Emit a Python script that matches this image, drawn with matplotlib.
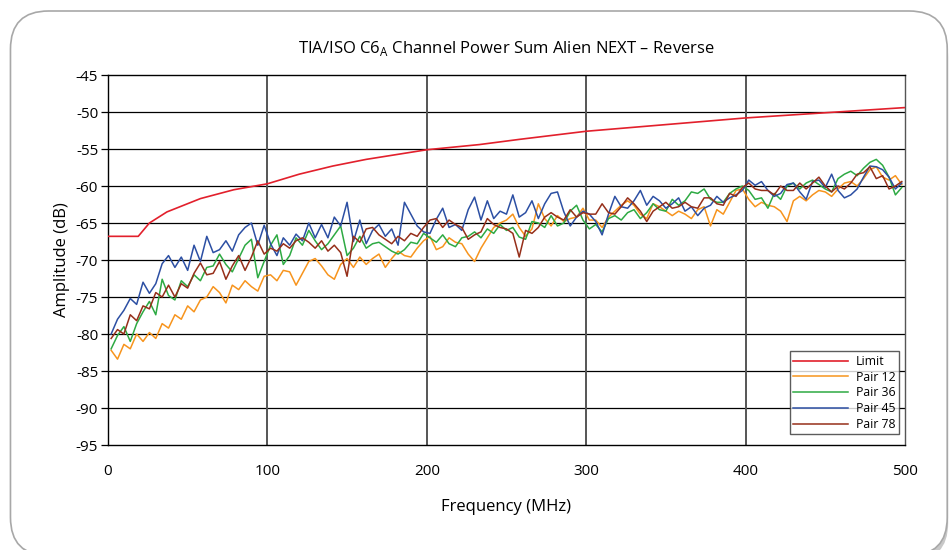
import numpy as np
import matplotlib
matplotlib.use("Agg")
import matplotlib.pyplot as plt
from matplotlib.patches import FancyBboxPatch

plt.rcParams['font.family'] = ['Open Sans', 'DejaVu Sans']
plt.rcParams['axes.unicode_minus'] = False

# Limit line, read at a few frequencies
limit_freq = [0, 19, 26, 37, 58, 79, 100, 120, 141, 162, 200, 233, 258, 300, 350, 400, 450, 500]
limit_db = [-66.8, -66.8, -65.0, -63.5, -61.7, -60.5, -59.7, -58.4, -57.3, -56.4,
            -55.1, -54.4, -53.7, -52.6, -51.7, -50.8, -50.1, -49.4]

# measured pairs, sampled every 4 MHz from 2 to 498 MHz
freq = np.arange(2, 500, 4)

pair12 = [
    -82.2, -83.4, -81.4, -82.0, -80.0, -81.0, -79.8, -80.6, -78.6, -79.2,
    -77.4, -78.0, -76.2, -77.0, -75.4, -75.0, -73.6, -74.4, -75.8, -73.4,
    -74.0, -72.8, -73.6, -74.2, -72.2,
    -72.0, -72.8, -71.4, -71.6, -73.4, -71.8, -70.2, -69.8, -70.8, -72.0,
    -72.6, -70.6, -69.8, -71.0, -69.6, -70.6, -69.8, -69.2, -71.0, -69.8,
    -68.8, -69.4, -69.6, -68.4, -67.4,
    -66.8, -68.6, -68.2, -67.0, -67.6, -67.8, -69.2, -70.2, -68.4, -67.0,
    -65.6, -65.0, -64.6, -63.8, -65.6, -66.8, -65.8, -62.4, -64.4, -65.4,
    -64.0, -64.8, -64.4, -64.2, -63.0,
    -64.6, -64.6, -65.6, -64.2, -63.4, -62.6, -62.0, -62.6, -63.8, -64.4,
    -62.4, -62.8, -63.4, -64.0, -63.4, -63.8, -64.4, -63.2, -62.8, -65.4,
    -63.2, -63.8, -62.2, -60.6, -60.4,
    -61.8, -62.8, -62.2, -62.6, -62.8, -63.4, -64.8, -62.0, -61.4, -62.0,
    -61.2, -60.6, -60.8, -61.4, -60.4, -59.6, -59.4, -60.0, -59.0, -57.8,
    -57.4, -58.8, -59.2, -58.6, -59.8,
]

pair36 = [
    -82.0, -80.2, -79.0, -81.0, -78.6, -77.0, -75.6, -77.4, -72.6, -74.8,
    -75.4, -72.8, -73.6, -72.0, -72.8, -71.0, -70.8, -69.2, -70.6, -71.6,
    -69.8, -68.0, -67.2, -72.4, -70.2,
    -68.0, -66.6, -70.6, -69.4, -67.0, -68.0, -66.0, -67.4, -68.6, -67.8,
    -66.6, -65.4, -69.4, -68.4, -66.8, -68.4, -67.8, -67.6, -68.2, -68.8,
    -69.2, -68.6, -67.6, -67.8, -66.4,
    -67.0, -67.6, -66.6, -67.8, -68.2, -67.0, -66.8, -66.2, -67.0, -65.8,
    -66.4, -65.2, -66.0, -65.6, -66.9, -67.2, -64.8, -65.0, -65.6, -64.0,
    -65.4, -65.0, -63.4, -62.6, -64.6,
    -65.8, -65.2, -66.2, -64.4, -64.0, -64.6, -63.6, -63.2, -64.4, -63.6,
    -62.4, -63.2, -63.4, -61.8, -62.6, -62.0, -60.8, -61.0, -60.4, -61.8,
    -62.2, -62.2, -61.0, -60.4, -60.0,
    -60.6, -61.8, -61.6, -63.0, -61.0, -61.8, -60.0, -59.6, -60.4, -59.6,
    -59.2, -59.8, -60.4, -60.8, -59.0, -58.4, -58.0, -58.6, -57.6, -56.8,
    -56.4, -57.2, -58.8, -61.2, -60.2,
]

pair45 = [
    -80.0, -78.0, -76.8, -75.2, -76.0, -73.0, -74.5, -73.2, -70.5, -69.4,
    -71.0, -69.6, -71.4, -68.0, -70.2, -66.8, -69.0, -68.6, -67.4, -68.8,
    -66.6, -65.6, -65.0, -68.0, -65.3,
    -67.8, -69.4, -67.0, -68.0, -66.5, -67.4, -65.0, -67.0, -65.2, -67.0,
    -64.2, -65.4, -62.2, -67.5, -64.6, -67.8, -66.0, -65.2, -66.8, -65.8,
    -68.0, -62.2, -63.8, -65.4, -66.2,
    -66.4, -64.5, -63.0, -65.6, -65.2, -66.0, -63.2, -61.5, -64.6, -62.0,
    -64.4, -63.4, -63.8, -61.2, -64.2, -63.6, -62.0, -64.4, -62.4, -61.0,
    -60.8, -63.5, -65.4, -64.2, -63.4,
    -63.8, -64.8, -66.6, -63.8, -61.4, -62.8, -63.0, -62.0, -60.6, -62.6,
    -61.4, -62.0, -63.0, -62.4, -61.6, -63.4, -62.8, -64.0, -63.0, -62.6,
    -61.4, -62.2, -61.6, -61.2, -60.6,
    -59.2, -59.9, -59.4, -60.6, -61.4, -61.0, -59.8, -59.6, -60.8, -61.8,
    -59.4, -59.2, -60.2, -58.4, -60.6, -61.6, -61.2, -60.4, -58.8, -57.3,
    -57.4, -57.8, -58.8, -60.4, -59.6,
]

pair78 = [
    -80.6, -79.4, -80.0, -77.4, -78.2, -76.2, -76.6, -74.4, -75.0, -73.4,
    -75.0, -73.2, -73.8, -71.8, -70.4, -72.0, -71.8, -70.2, -72.6, -70.8,
    -69.4, -71.4, -69.6, -67.4, -69.2,
    -68.4, -68.8, -67.8, -68.4, -67.4, -67.0, -67.6, -68.4, -67.4, -68.8,
    -68.0, -69.0, -72.2, -66.8, -67.6, -65.8, -65.6, -66.6, -67.2, -67.8,
    -66.8, -67.4, -66.4, -66.8, -65.6,
    -64.6, -64.4, -65.6, -64.6, -65.2, -65.6, -67.2, -66.6, -66.2, -64.4,
    -65.2, -65.6, -65.8, -66.4, -69.6, -66.0, -66.4, -65.6, -64.2, -63.6,
    -64.2, -64.6, -63.2, -64.2, -63.6,
    -63.8, -63.8, -62.4, -63.6, -63.8, -62.8, -61.6, -62.4, -63.4, -64.8,
    -63.4, -62.8, -62.2, -63.0, -62.8, -62.2, -62.8, -63.0, -61.6, -61.6,
    -62.4, -62.6, -61.0, -61.4, -60.2,
    -59.6, -60.4, -60.6, -60.6, -61.2, -60.0, -60.6, -60.6, -59.6, -60.4,
    -59.6, -58.8, -60.0, -60.8, -60.0, -60.4, -59.6, -58.4, -58.2, -57.4,
    -59.0, -58.6, -60.4, -60.0, -59.4,
]

fig = plt.figure(figsize=(9.52, 5.5), dpi=100)

# rounded frame with a soft shadow
shadow = FancyBboxPatch((0.016, -0.02), 0.98, 0.985, boxstyle="round,pad=0,rounding_size=0.04",
                        transform=fig.transFigure, facecolor="#c8c8c8", edgecolor="none", zorder=-2,
                        mutation_aspect=952 / 550)
frame = FancyBboxPatch((0.011, -0.01), 0.984, 0.99, boxstyle="round,pad=0,rounding_size=0.04",
                       transform=fig.transFigure, facecolor="white", edgecolor="#a8a8a8", lw=1.2,
                       zorder=-1, mutation_aspect=952 / 550)
fig.patches.extend([shadow, frame])

ax = fig.add_axes([0.1134, 0.1909, 0.8372, 0.6727])
ax.set_facecolor("none")

ax.plot(limit_freq, limit_db, color="#e2202c", lw=1.2, label="Limit", zorder=5)
ax.plot(freq, pair12, color="#f7941d", lw=1.1, label="Pair 12", zorder=3)
ax.plot(freq, pair36, color="#2eaa43", lw=1.1, label="Pair 36", zorder=3)
ax.plot(freq, pair45, color="#2c4fa3", lw=1.1, label="Pair 45", zorder=3)
ax.plot(freq, pair78, color="#962f1a", lw=1.1, label="Pair 78", zorder=4)

ax.set_xlim(0, 500)
ax.set_ylim(-95, -45)
ax.set_xticks(range(0, 501, 100))
ax.set_yticks(range(-95, -44, 5))

for y in range(-90, -45, 5):
    ax.axhline(y, color="black", lw=0.9, zorder=1)
for x in range(100, 500, 100):
    ax.axvline(x, color="#555555", lw=1.4, zorder=1)

for s in ax.spines.values():
    s.set_color("black")
    s.set_linewidth(1.0)
ax.spines["right"].set_color("#555555")

ax.tick_params(axis="y", length=5, width=0.9, labelsize=11, pad=2)
ax.tick_params(axis="x", length=0, labelsize=11, pad=14)

ax.set_xlabel("Frequency (MHz)", fontsize=12, labelpad=14)
ax.set_ylabel("Amplitude (dB)", fontsize=12, labelpad=4)
ax.set_title("TIA/ISO C6$_\\mathregular{A}$ Channel Power Sum Alien NEXT \u2013 Reverse",
             fontsize=12, pad=16)

leg = ax.legend(loc="lower right", fontsize=8.8, frameon=True, fancybox=False,
                handlelength=4.5, handletextpad=0.6, borderpad=0.3, labelspacing=0.22,
                bbox_to_anchor=(1.0, 0.012))
leg.get_frame().set_edgecolor("#333333")
leg.get_frame().set_linewidth(1.0)
leg.set_zorder(10)

fig.savefig("out.png", dpi=100)
